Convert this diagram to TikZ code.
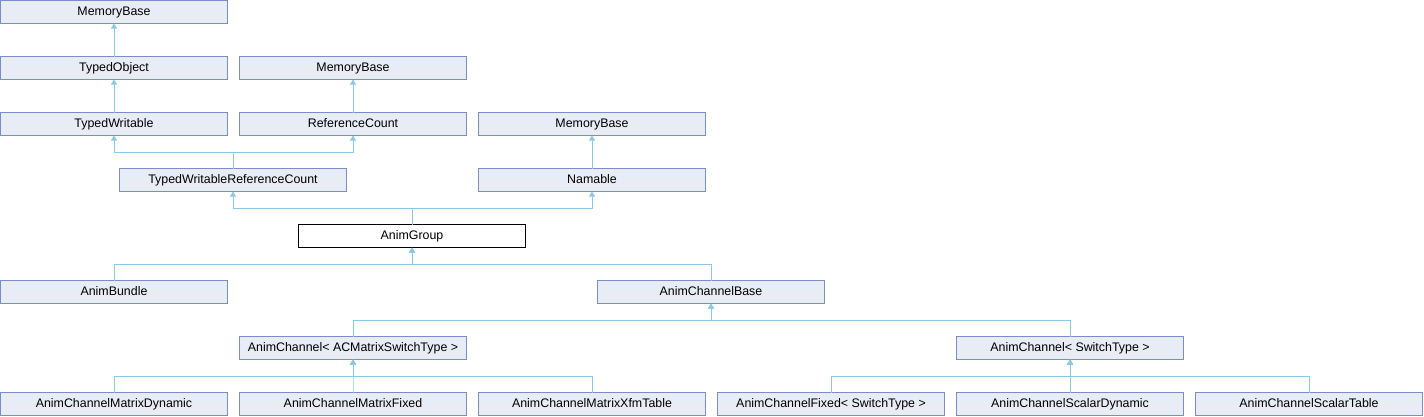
\documentclass[tikz,border=0pt]{standalone}
\usepackage{fontspec}
\setmainfont{Liberation Sans}
\usetikzlibrary{arrows.meta}
\definecolor{boxfill}{RGB}{232,236,245}
\definecolor{boxline}{RGB}{122,141,200}
\definecolor{edgecol}{RGB}{140,200,232}
\tikzset{
  cls/.style={draw=boxline, fill=boxfill, line width=1pt, minimum width=227pt, minimum height=23pt,
    inner sep=0pt, outer sep=0pt, anchor=north west, text height=9pt, text depth=2.5pt,
    font=\fontsize{12.4}{14}\selectfont},
  cur/.style={cls, draw=black, fill=white},
  edge/.style={draw=edgecol, line width=1pt, -{Triangle[width=6pt,length=5pt]}},
}
\begin{document}
\begin{tikzpicture}[x=1pt,y=1pt]
\useasboundingbox (0,0) rectangle (1424,-416);
% row 1
\node[cls] (mb1) at (0.5,-0.5) {MemoryBase};
% row 2
\node[cls] (tobj) at (0.5,-56.5) {TypedObject};
\node[cls] (mb2) at (239.5,-56.5) {MemoryBase};
% row 3
\node[cls] (tw) at (0.5,-112.5) {TypedWritable};
\node[cls] (rc) at (239.5,-112.5) {ReferenceCount};
\node[cls] (mb3) at (478.5,-112.5) {MemoryBase};
% row 4
\node[cls] (twrc) at (119.5,-168.5) {TypedWritableReferenceCount};
\node[cls] (nam) at (478.5,-168.5) {Namable};
% row 5
\node[cur] (ag) at (298.5,-224.5) {AnimGroup};
% row 6
\node[cls] (ab) at (0.5,-280.5) {AnimBundle};
\node[cls] (acb) at (597.5,-280.5) {AnimChannelBase};
% row 7
\node[cls] (acm) at (239.5,-336.5) {AnimChannel< ACMatrixSwitchType >};
\node[cls] (acs) at (956.5,-336.5) {AnimChannel< SwitchType >};
% row 8
\node[cls] (md) at (0.5,-392.5) {AnimChannelMatrixDynamic};
\node[cls] (mf) at (239.5,-392.5) {AnimChannelMatrixFixed};
\node[cls] (mx) at (478.5,-392.5) {AnimChannelMatrixXfmTable};
\node[cls] (cf) at (717.5,-392.5) {AnimChannelFixed< SwitchType >};
\node[cls] (sd) at (956.5,-392.5) {AnimChannelScalarDynamic};
\node[cls] (st) at (1195.5,-392.5) {AnimChannelScalarTable};
% edges
\draw[edge] (tobj.north) -- (mb1.south);
\draw[edge] (tw.north) -- (tobj.south);
\draw[edge] (rc.north) -- (mb2.south);
\draw[edge] (nam.north) -- (mb3.south);
\draw[edge] (twrc.north) -- ++(0,16) -| (tw.south);
\draw[edge] (twrc.north) -- ++(0,16) -| (rc.south);
\draw[edge] (ag.north) -- ++(0,16) -| (twrc.south);
\draw[edge] (ag.north) -- ++(0,16) -| (nam.south);
\draw[edge] (ab.north) -- ++(0,16) -| (ag.south);
\draw[edge] (acb.north) -- ++(0,16) -| (ag.south);
\draw[edge] (acm.north) -- ++(0,16) -| (acb.south);
\draw[edge] (acs.north) -- ++(0,16) -| (acb.south);
\draw[edge] (md.north) -- ++(0,16) -| (acm.south);
\draw[edge] (mf.north) -- ++(0,16) -| (acm.south);
\draw[edge] (mx.north) -- ++(0,16) -| (acm.south);
\draw[edge] (cf.north) -- ++(0,16) -| (acs.south);
\draw[edge] (sd.north) -- ++(0,16) -| (acs.south);
\draw[edge] (st.north) -- ++(0,16) -| (acs.south);
\end{tikzpicture}
\end{document}
